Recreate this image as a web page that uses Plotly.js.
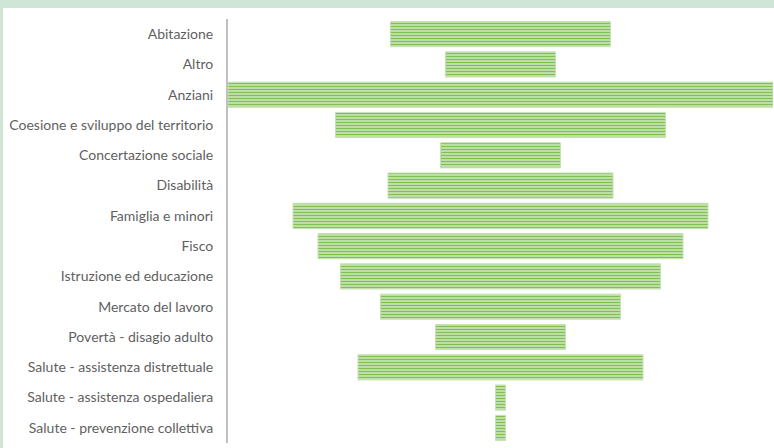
<!DOCTYPE html>
<html>
<head>
<meta charset="utf-8">
<script src="https://cdn.plot.ly/plotly-3.0.1.min.js"></script>
<style>
  html, body { margin: 0; padding: 0; }
  body { width: 774px; height: 448px; background: #cfe6d7; position: relative; overflow: hidden; }
  #chart { position: absolute; left: 3px; top: 8px; width: 771px; height: 440px; background: #ffffff; }
</style>
</head>
<body>
<div id="chart"></div>
<script>
// Policy areas, listed top to bottom
const categories = [
  "Abitazione",
  "Altro",
  "Anziani",
  "Coesione e sviluppo del territorio",
  "Concertazione sociale",
  "Disabilità",
  "Famiglia e minori",
  "Fisco",
  "Istruzione ed educazione",
  "Mercato del lavoro",
  "Povertà - disagio adulto",
  "Salute - assistenza distrettuale",
  "Salute - assistenza ospedaliera",
  "Salute - prevenzione collettiva"
];

// Count for each area
const values = [44, 22, 109, 66, 24, 45, 83, 73, 64, 48, 26, 57, 2, 2];

// Bars are centred on zero, so each one starts at minus half its length
const bases = values.map(v => -v / 2);
const maxVal = Math.max(...values);

const trace = {
  type: "bar",
  orientation: "h",
  y: categories,
  x: values,
  base: bases,
  width: 0.83,
  marker: {
    color: "#e6f2de",
    line: { color: "#c6e1b2", width: 1 },
    pattern: {
      shape: "-",
      fgcolor: "#80c052",
      bgcolor: "#e6f2de",
      size: 3,
      solidity: 0.6,
      fillmode: "replace"
    }
  },
  hoverinfo: "skip"
};

const layout = {
  width: 771,
  height: 440,
  margin: { l: 225, r: 1, t: 11, b: 5 },
  paper_bgcolor: "#ffffff",
  plot_bgcolor: "#ffffff",
  showlegend: false,
  font: { family: "Lato, sans-serif", size: 14, color: "#5f5f5f" },
  xaxis: {
    range: [-maxVal / 2, maxVal / 2],
    showgrid: false,
    zeroline: false,
    showticklabels: false,
    showline: false,
    fixedrange: true
  },
  yaxis: {
    type: "category",
    categoryorder: "array",
    categoryarray: categories,
    autorange: "reversed",
    showgrid: false,
    zeroline: false,
    showline: true,
    linecolor: "#c0c0c0",
    linewidth: 2,
    ticks: "outside",
    ticklen: 10,
    tickcolor: "rgba(0,0,0,0)",
    tickfont: { family: "Lato, sans-serif", size: 14, color: "#5f5f5f" },
    fixedrange: true
  }
};

Plotly.newPlot("chart", [trace], layout, { displayModeBar: false, staticPlot: true });
</script>
</body>
</html>
